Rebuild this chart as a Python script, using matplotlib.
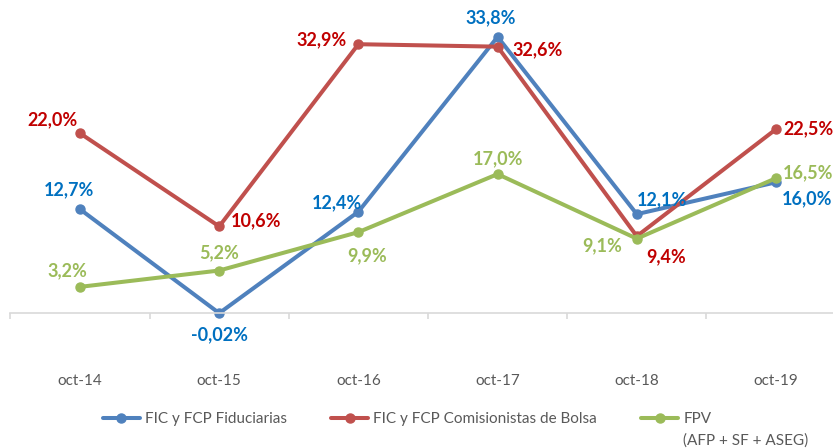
import matplotlib.pyplot as plt
from matplotlib.ticker import FixedLocator

plt.rcParams['font.family'] = ['Lato', 'DejaVu Sans']

periods = ['oct-14', 'oct-15', 'oct-16', 'oct-17', 'oct-18', 'oct-19']
fiduciarias = [12.7, -0.02, 12.4, 33.8, 12.1, 16.0]
comisionistas = [22.0, 10.6, 32.9, 32.6, 9.4, 22.5]
fpv = [3.2, 5.2, 9.9, 17.0, 9.1, 16.5]

names = ['FIC y FCP Fiduciarias', 'FIC y FCP Comisionistas de Bolsa', 'FPV']
fpv_note = '(AFP + SF + ASEG)'
line_colors = ['#4F81BD', '#C0504D', '#9BBB59']
label_colors = ['#0070C0', '#C00000', '#9BBB59']

# label offsets (pixels, from the point to the label centre)
offsets = [
    [(-11, 19), (0, -22), (-21, 9), (-7, 19), (25, 14), (31, -16)],
    [(-28, 14), (37, 6), (-37, 4), (40, -3), (29, -21), (32, 0)],
    [(-13, 16), (0, 18), (9, -24), (0, 15), (-35, -7), (32, 5)],
]

W, H = 833, 448
fig = plt.figure(figsize=(W / 100, H / 100), dpi=100)
# axis spans past the right edge, like the cropped original
ax = fig.add_axes([10.4 / W, (H - 313) / H, 835.2 / W, 313 / H])

x = list(range(len(periods)))
series = [fiduciarias, comisionistas, fpv]
for vals, name, lc, tc, offs in zip(series, names, line_colors, label_colors, offsets):
    ax.plot(x, vals, color=lc, lw=2.9, marker='o', ms=6.5, label=name,
            clip_on=False, solid_capstyle='round')
    for xi, v, (dx, dy) in zip(x, vals, offs):
        txt = f'{v:.2f}%' if abs(v) < 0.1 else f'{v:.1f}%'
        ax.annotate(txt.replace('.', ','), (xi, v), xytext=(dx * 0.72, dy * 0.72),
                    textcoords='offset points', ha='center', va='center',
                    color=tc, fontsize=13, fontweight='bold', annotation_clip=False)

ax.set_xlim(-0.5, 5.5)
ax.set_ylim(0, 313 / 8.17)
for s in ['top', 'right', 'left']:
    ax.spines[s].set_visible(False)
ax.spines['bottom'].set_color('#D9D9D9')
ax.spines['bottom'].set_linewidth(1.2)
ax.set_yticks([])
ax.set_xticks(x)
ax.set_xticklabels(periods, fontsize=11, color='#595959')
ax.tick_params(axis='x', which='major', length=0, pad=44)
ax.xaxis.set_minor_locator(FixedLocator([i - 0.5 for i in range(7)]))
ax.tick_params(axis='x', which='minor', length=4, width=1.2, color='#D9D9D9')

leg = fig.legend(loc='upper left', bbox_to_anchor=(103 / W, 1 - 412 / H), ncol=3,
                 frameon=False, fontsize=11, labelcolor='#595959', handlelength=2.4,
                 handletextpad=0.35, columnspacing=2.9, borderpad=0, borderaxespad=0)

# second line of the FPV legend entry, under "FPV"
fig.canvas.draw()
bb = leg.get_texts()[2].get_window_extent().transformed(fig.transFigure.inverted())
fig.text(bb.x0, bb.y0 - 22 / H, fpv_note, fontsize=11, color='#595959',
         ha='left', va='bottom')

fig.savefig('out.png', dpi=100)
